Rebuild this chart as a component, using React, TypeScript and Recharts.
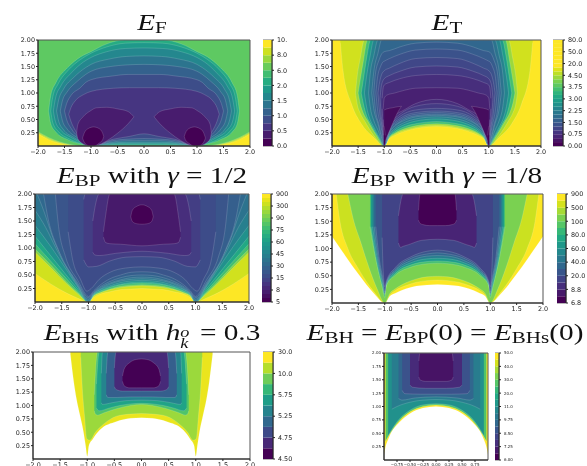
import React from 'react';
import { ComposedChart, BarChart, Area, Bar, XAxis, YAxis, ReferenceArea } from 'recharts';

type Tri = [number, number, number];

// ---------- tick labels ----------
const xTicksWide = [-2, -1.5, -1, -0.5, 0, 0.5, 1, 1.5, 2];
const xTicksNarrow = [-0.75, -0.5, -0.25, 0, 0.25, 0.5, 0.75];
const yTicks = [0.25, 0.5, 0.75, 1, 1.25, 1.5, 1.75, 2];
const cbF = ['0.0', '0.5', '1.0', '1.5', '2.0', '6.0', '8.0', '10.'];
const cbT = ['0.00', '0.75', '1.50', '2.25', '3.00', '3.75', '4.50', '20.0', '50.0', '80.0'];
const cbP2 = ['5', '8', '15', '30', '45', '60', '75', '90', '300', '900'];
const cbP8 = ['6.8', '8.8', '20.0', '40.0', '60.0', '80.0', '100', '500', '900'];
const cbS = ['4.50', '4.75', '5.25', '5.75', '10.0', '30.0'];
const cbH = ['6.00', '7.25', '8.50', '9.75', '11.0', '20.0', '30.0', '40.0', '50.0'];

// ---------- E_F : [x, lower, upper] (left half) ----------
const efFull: Tri[] = [[-2, 0, 2], [2, 0, 2]];
const efCorner11: Tri[] = [[-2, 0, 0.27], [-1.8, 0, 0.16], [-1.6, 0, 0.08], [-1.4, 0, 0.03], [-1.2, 0, 0]];
const efCorner12: Tri[] = [[-2, 0, 0.25], [-1.8, 0, 0.14], [-1.6, 0, 0.065], [-1.4, 0, 0.02], [-1.25, 0, 0]];
const efCorner13: Tri[] = [[-2, 0, 0.23], [-1.8, 0, 0.12], [-1.6, 0, 0.05], [-1.4, 0, 0.01], [-1.3, 0, 0]];
const efR8: Tri[] = [[-1.8, 0.66, 0.66], [-1.76, 0.42, 0.95], [-1.66, 0.26, 1.2], [-1.44, 0.12, 1.48], [-1.2, 0.04, 1.68], [-1, 0, 1.78], [-0.72, 0.01, 1.92], [-0.36, 0.015, 2], [0, 0.015, 2]];
const efR7: Tri[] = [[-1.76, 0.66, 0.66], [-1.72, 0.44, 0.93], [-1.62, 0.28, 1.17], [-1.42, 0.14, 1.44], [-1.2, 0.05, 1.63], [-1, 0, 1.75], [-0.7, 0.02, 1.87], [-0.35, 0.03, 1.94], [0, 0.03, 1.95]];
const efR6: Tri[] = [[-1.71, 0.66, 0.66], [-1.67, 0.46, 0.9], [-1.57, 0.3, 1.13], [-1.37, 0.16, 1.38], [-1.15, 0.05, 1.58], [-1, 0, 1.67], [-0.7, 0.03, 1.78], [-0.35, 0.05, 1.84], [0, 0.05, 1.85]];
const efR5: Tri[] = [[-1.65, 0.66, 0.66], [-1.61, 0.47, 0.87], [-1.52, 0.31, 1.07], [-1.32, 0.16, 1.3], [-1.1, 0.04, 1.48], [-1, 0, 1.54], [-0.66, 0.05, 1.64], [-0.33, 0.07, 1.69], [0, 0.07, 1.7]];
const efR4: Tri[] = [[-1.58, 0.66, 0.66], [-1.54, 0.48, 0.85], [-1.45, 0.32, 1.02], [-1.26, 0.16, 1.22], [-1.1, 0.06, 1.35], [-1, 0, 1.41], [-0.63, 0.07, 1.5], [-0.32, 0.1, 1.53], [0, 0.1, 1.54]];
const efR3: Tri[] = [[-1.5, 0.66, 0.66], [-1.46, 0.5, 0.8], [-1.38, 0.34, 0.95], [-1.2, 0.14, 1.1], [-1.1, 0.06, 1.2], [-1, 0, 1.25], [-0.6, 0.1, 1.32], [-0.3, 0.13, 1.35], [0, 0.14, 1.35]];
const efR2: Tri[] = [[-1.42, 0.6, 0.6], [-1.38, 0.47, 0.72], [-1.3, 0.3, 0.85], [-1.14, 0.1, 0.97], [-1, 0, 1.03], [-0.57, 0.13, 1.09], [-0.28, 0.18, 1.1], [0, 0.23, 1.1]];
const efLobe: Tri[] = [[-1.27, 0.25, 0.25], [-1.25, 0.14, 0.4], [-1.15, 0.04, 0.55], [-1, 0, 0.67], [-0.9, 0.01, 0.72], [-0.7, 0.1, 0.73], [-0.5, 0.24, 0.7], [-0.3, 0.42, 0.65], [-0.19, 0.55, 0.55]];
const efCore: Tri[] = [[-1.16, 0.15, 0.15], [-1.12, 0.06, 0.26], [-1.05, 0.01, 0.33], [-0.95, 0, 0.36], [-0.85, 0.05, 0.33], [-0.78, 0.12, 0.24], [-0.76, 0.18, 0.18]];

// ---------- E_T ----------
const etLime: Tri[] = [[-1.84, 1.95, 2], [-1.79, 1.43, 2], [-1.63, 0.8, 2], [-1.44, 0.42, 2], [-1.2, 0.16, 2], [-1, 0, 2], [-0.9, 0.14, 2], [-0.8, 0.2, 2], [-0.6, 0.28, 2], [-0.4, 0.33, 2], [-0.2, 0.36, 2], [0, 0.37, 2]];
const et85: Tri[] = [[-1.55, 1, 1], [-1.52, 0.8, 1.3], [-1.46, 0.62, 1.65], [-1.38, 0.48, 2], [-1.2, 0.2, 2], [-1, 0, 2], [-0.9, 0.15, 2], [-0.8, 0.22, 2], [-0.6, 0.3, 2], [-0.4, 0.35, 2], [-0.2, 0.38, 2], [0, 0.39, 2]];
const et70: Tri[] = [[-1.5, 1, 1], [-1.46, 0.8, 1.25], [-1.4, 0.62, 1.6], [-1.32, 0.48, 2], [-1.15, 0.2, 2], [-1, 0, 2], [-0.9, 0.17, 2], [-0.8, 0.24, 2], [-0.6, 0.33, 2], [-0.4, 0.38, 2], [-0.2, 0.41, 2], [0, 0.42, 2]];
const et55: Tri[] = [[-1.44, 1, 1], [-1.4, 0.8, 1.25], [-1.33, 0.55, 1.7], [-1.26, 0.42, 2], [-1.1, 0.15, 2], [-1, 0, 2], [-0.9, 0.18, 2], [-0.8, 0.27, 2], [-0.6, 0.37, 2], [-0.4, 0.42, 2], [-0.2, 0.45, 2], [0, 0.46, 2]];
const et45: Tri[] = [[-1.38, 1, 1], [-1.34, 0.75, 1.3], [-1.27, 0.5, 1.7], [-1.2, 0.36, 2], [-1.1, 0.17, 2], [-1, 0, 2], [-0.9, 0.2, 2], [-0.8, 0.3, 2], [-0.6, 0.41, 2], [-0.4, 0.47, 2], [-0.2, 0.5, 2], [0, 0.51, 2]];
const et37: Tri[] = [[-1.3, 1, 1], [-1.27, 0.75, 1.35], [-1.2, 0.48, 1.7], [-1.12, 0.3, 2], [-1, 0, 2], [-0.9, 0.22, 2], [-0.8, 0.33, 2], [-0.6, 0.45, 2], [-0.4, 0.51, 2], [-0.2, 0.54, 2], [0, 0.55, 2]];
const et31: Tri[] = [[-1.24, 1, 1], [-1.2, 0.7, 1.4], [-1.12, 0.42, 1.75], [-1.05, 0.15, 2], [-1, 0, 2], [-0.9, 0.25, 2], [-0.8, 0.37, 2], [-0.6, 0.49, 2], [-0.4, 0.55, 2], [-0.2, 0.57, 2], [0, 0.58, 2]];
const et27: Tri[] = [[-1.2, 1, 1], [-1.17, 0.7, 1.35], [-1.1, 0.4, 1.62], [-1.04, 0.15, 1.75], [-1, 0, 1.78], [-0.9, 0.27, 1.8], [-0.7, 0.46, 1.87], [-0.4, 0.57, 1.94], [0, 0.6, 1.96]];
const et23: Tri[] = [[-1.16, 1, 1], [-1.13, 0.7, 1.28], [-1.07, 0.4, 1.5], [-1.03, 0.2, 1.58], [-1, 0.05, 1.6], [-0.9, 0.3, 1.65], [-0.7, 0.49, 1.73], [-0.4, 0.6, 1.81], [0, 0.63, 1.83]];
const et19: Tri[] = [[-1.12, 1, 1], [-1.09, 0.65, 1.2], [-1.05, 0.4, 1.35], [-1, 0.1, 1.42], [-0.9, 0.33, 1.47], [-0.7, 0.52, 1.56], [-0.4, 0.63, 1.65], [0, 0.66, 1.67]];
const et15: Tri[] = [[-1.08, 0.9, 0.9], [-1.06, 0.6, 1.1], [-1.03, 0.35, 1.22], [-1, 0.15, 1.27], [-0.9, 0.36, 1.33], [-0.7, 0.56, 1.41], [-0.4, 0.68, 1.49], [0, 0.71, 1.51]];
const et11: Tri[] = [[-1.04, 0.7, 0.9], [-1.02, 0.4, 1.1], [-1, 0.2, 1.15], [-0.9, 0.4, 1.2], [-0.7, 0.6, 1.27], [-0.4, 0.75, 1.33], [0, 0.8, 1.35]];
const et08: Tri[] = [[-1.02, 0.5, 0.7], [-1, 0.2, 0.9], [-0.95, 0.35, 0.96], [-0.8, 0.57, 1], [-0.62, 0.68, 1.05], [-0.4, 0.8, 1.09], [0, 0.88, 1.1]];
const etLobe: Tri[] = [[-1, 0.05, 0.68], [-0.95, 0.17, 0.7], [-0.85, 0.4, 0.72], [-0.75, 0.62, 0.74], [-0.67, 0.75, 0.75]];
const etSpike: Tri[] = [[-1.01, 0.02, 0.38], [-1, 0, 0.35], [-0.98, 0.05, 0.2]];

// ---------- E_BP, gamma = 1/2 ----------
const bp93: Tri[] = [[-2, 0.53, 2], [-1.7, 0.33, 2], [-1.4, 0.16, 2], [-1.2, 0.07, 2], [-1, 0, 2], [-0.9, 0.09, 2], [-0.8, 0.14, 2], [-0.6, 0.19, 2], [-0.4, 0.23, 2], [-0.2, 0.24, 2], [0, 0.25, 2]];
const bp82: Tri[] = [[-2, 0.92, 2], [-1.7, 0.63, 2], [-1.4, 0.33, 2], [-1.2, 0.15, 2], [-1, 0, 2], [-0.9, 0.11, 2], [-0.8, 0.16, 2], [-0.6, 0.23, 2], [-0.4, 0.27, 2], [-0.2, 0.29, 2], [0, 0.3, 2]];
const bp68: Tri[] = [[-2, 0.98, 2], [-1.7, 0.68, 2], [-1.4, 0.36, 2], [-1.2, 0.17, 2], [-1, 0, 2], [-0.9, 0.12, 2], [-0.8, 0.17, 2], [-0.6, 0.24, 2], [-0.4, 0.29, 2], [-0.2, 0.31, 2], [0, 0.32, 2]];
const bp55: Tri[] = [[-2, 1.08, 2], [-1.7, 0.75, 2], [-1.4, 0.42, 2], [-1.2, 0.2, 2], [-1, 0, 2], [-0.9, 0.13, 2], [-0.8, 0.19, 2], [-0.6, 0.27, 2], [-0.4, 0.32, 2], [-0.2, 0.34, 2], [0, 0.35, 2]];
const bp45: Tri[] = [[-2, 1.22, 2], [-1.7, 0.85, 2], [-1.4, 0.48, 2], [-1.2, 0.24, 2], [-1, 0, 2], [-0.9, 0.14, 2], [-0.8, 0.2, 2], [-0.6, 0.28, 2], [-0.4, 0.33, 2], [-0.2, 0.36, 2], [0, 0.37, 2]];
const bp38: Tri[] = [[-2, 1.42, 2], [-1.7, 1.02, 2], [-1.4, 0.58, 2], [-1.2, 0.28, 2], [-1, 0, 2], [-0.9, 0.15, 2], [-0.8, 0.22, 2], [-0.6, 0.3, 2], [-0.4, 0.36, 2], [-0.2, 0.39, 2], [0, 0.4, 2]];
const bp33: Tri[] = [[-2, 1.7, 2], [-1.8, 1.38, 2], [-1.6, 0.98, 2], [-1.4, 0.62, 2], [-1.2, 0.3, 2], [-1, 0.02, 2], [-0.9, 0.16, 2], [-0.8, 0.23, 2], [-0.6, 0.33, 2], [-0.4, 0.39, 2], [-0.2, 0.42, 2], [0, 0.43, 2]];
const bp30: Tri[] = [[-1.96, 2, 2], [-1.84, 1.7, 2], [-1.65, 1.15, 2], [-1.45, 0.75, 2], [-1.2, 0.32, 2], [-1, 0.05, 2], [-0.9, 0.17, 2], [-0.8, 0.25, 2], [-0.6, 0.35, 2], [-0.4, 0.41, 2], [-0.2, 0.45, 2], [0, 0.46, 2]];
const bp25: Tri[] = [[-1.84, 2, 2], [-1.75, 1.52, 2], [-1.56, 0.96, 2], [-1.2, 0.35, 2], [-1, 0.08, 2], [-0.9, 0.19, 2], [-0.8, 0.27, 2], [-0.6, 0.38, 2], [-0.4, 0.45, 2], [-0.2, 0.49, 2], [0, 0.5, 2]];
const bp21: Tri[] = [[-1.62, 2, 2], [-1.56, 1.4, 2], [-1.43, 0.84, 2], [-1.2, 0.4, 2], [-1.03, 0.12, 2], [-1, 0.1, 2], [-0.9, 0.21, 2], [-0.8, 0.3, 2], [-0.6, 0.43, 2], [-0.4, 0.5, 2], [-0.2, 0.55, 2], [0, 0.56, 2]];
const bp18: Tri[] = [[-1.38, 1.3, 2], [-1.3, 0.8, 2], [-1.15, 0.42, 2], [-1.03, 0.2, 2], [-0.95, 0.25, 2], [-0.8, 0.42, 2], [-0.6, 0.55, 2], [-0.3, 0.63, 2], [0, 0.65, 2]];
const bp14: Tri[] = [[-1.09, 0.78, 1.9], [-1.06, 0.72, 2], [-1, 0.65, 2], [-0.85, 0.66, 2], [-0.6, 0.76, 2], [-0.3, 0.83, 2], [0, 0.84, 2]];
const bp10: Tri[] = [[-0.92, 0.92, 1.5], [-0.88, 0.87, 1.75], [-0.8, 0.86, 2], [-0.5, 0.9, 2], [-0.2, 0.93, 2], [0, 0.94, 2]];
const bp05: Tri[] = [[-0.72, 1.2, 1.3], [-0.68, 1.1, 1.6], [-0.6, 1.08, 2], [-0.4, 1.07, 2], [0, 1.04, 2]];
const bpCircle: Tri[] = [[-0.21, 1.58, 1.58], [-0.18, 1.49, 1.7], [-0.1, 1.45, 1.77], [0, 1.44, 1.8]];

// ---------- E_BP, gamma = 1/8 ----------
const b8Yellow: Tri[] = [[-2, 1.22, 2], [-1.7, 0.8, 2], [-1.5, 0.53, 2], [-1.2, 0.17, 2], [-1, 0, 2], [-0.9, 0.13, 2], [-0.8, 0.18, 2], [-0.6, 0.26, 2], [-0.4, 0.31, 2], [-0.2, 0.33, 2], [0, 0.34, 2]];
const b8Lemon: Tri[] = [[-1.92, 2, 2], [-1.85, 1.5, 2], [-1.7, 1, 2], [-1.5, 0.63, 2], [-1.2, 0.2, 2], [-1, 0, 2], [-0.9, 0.15, 2], [-0.8, 0.23, 2], [-0.6, 0.32, 2], [-0.4, 0.38, 2], [-0.2, 0.41, 2], [0, 0.42, 2]];
const b8Green: Tri[] = [[-1.7, 2, 2], [-1.6, 1.55, 2], [-1.45, 1.1, 2], [-1.3, 0.65, 2], [-1.15, 0.27, 2], [-1, 0, 2], [-0.9, 0.18, 2], [-0.8, 0.26, 2], [-0.6, 0.37, 2], [-0.4, 0.44, 2], [-0.2, 0.48, 2], [0, 0.49, 2]];
const b870: Tri[] = [[-1.28, 1.4, 2], [-1.18, 0.85, 2], [-1.05, 0.3, 2], [-1, 0.1, 2], [-0.98, 0.3, 2], [-0.8, 0.51, 2], [-0.5, 0.66, 2], [-0.2, 0.72, 2], [0, 0.73, 2]];
const b855: Tri[] = [[-1.26, 1.4, 2], [-1.17, 0.85, 2], [-1.05, 0.33, 2], [-1, 0.15, 2], [-0.97, 0.33, 2], [-0.8, 0.54, 2], [-0.5, 0.7, 2], [-0.2, 0.76, 2], [0, 0.77, 2]];
const b842: Tri[] = [[-1.23, 1.4, 2], [-1.15, 0.85, 2], [-1.04, 0.35, 2], [-1, 0.17, 2], [-0.97, 0.35, 2], [-0.8, 0.57, 2], [-0.5, 0.74, 2], [-0.2, 0.81, 2], [0, 0.82, 2]];
const b833: Tri[] = [[-1.2, 1.4, 2], [-1.13, 0.85, 2], [-1.03, 0.35, 2], [-1, 0.17, 2], [-0.97, 0.37, 2], [-0.8, 0.6, 2], [-0.5, 0.78, 2], [-0.2, 0.86, 2], [0, 0.87, 2]];
const b826: Tri[] = [[-1.17, 1.4, 2], [-1.11, 0.85, 2], [-1.02, 0.35, 2], [-1, 0.2, 2], [-0.97, 0.38, 2], [-0.8, 0.62, 2], [-0.5, 0.82, 2], [-0.2, 0.9, 2], [0, 0.92, 2]];
const b820: Tri[] = [[-1.05, 1.2, 2], [-1.03, 0.6, 2], [-1, 0.3, 2], [-0.97, 0.4, 2], [-0.8, 0.65, 2], [-0.5, 0.85, 2], [-0.2, 0.95, 2], [0, 0.97, 2]];
const b8Box: Tri[] = [[-0.74, 1.1, 1.6], [-0.7, 1.02, 1.85], [-0.65, 1.04, 2], [-0.55, 1.07, 2], [-0.3, 1.15, 2], [0, 1.17, 2]];
const b8Core: Tri[] = [[-0.36, 1.52, 1.7], [-0.33, 1.46, 2], [-0.28, 1.44, 2], [-0.15, 1.42, 2], [0, 1.42, 2]];

// ---------- E_BHs ----------
const bsYellow: Tri[] = [[-1.31, 1.95, 2], [-1.25, 1.45, 2], [-1.2, 1.13, 2], [-1.13, 0.8, 2], [-1.07, 0.51, 2], [-1.03, 0.25, 2], [-1, 0.05, 2], [-0.97, 0.25, 2], [-0.9, 0.37, 2], [-0.77, 0.54, 2], [-0.46, 0.7, 2], [-0.2, 0.76, 2], [0, 0.77, 2]];
const bsLime: Tri[] = [[-1.12, 1.9, 2], [-1.09, 1.3, 2], [-1.05, 0.8, 2], [-1.01, 0.38, 2], [-0.95, 0.35, 2], [-0.85, 0.5, 2], [-0.7, 0.65, 2], [-0.46, 0.8, 2], [-0.2, 0.84, 2], [0, 0.85, 2]];
const bs75: Tri[] = [[-0.87, 0.9, 1.2], [-0.85, 0.84, 1.6], [-0.81, 0.82, 2], [-0.7, 0.86, 2], [-0.46, 0.94, 2], [-0.2, 1, 2], [0, 1.02, 2]];
const bs60: Tri[] = [[-0.83, 0.95, 1.4], [-0.78, 0.9, 2], [-0.6, 0.95, 2], [-0.4, 1, 2], [-0.2, 1.03, 2], [0, 1.04, 2]];
const bs45: Tri[] = [[-0.74, 1.05, 1.6], [-0.72, 1.02, 2], [-0.55, 1.05, 2], [-0.3, 1.09, 2], [0, 1.1, 2]];
const bs30: Tri[] = [[-0.65, 1.2, 1.6], [-0.62, 1.15, 2], [-0.45, 1.15, 2], [-0.2, 1.16, 2], [0, 1.16, 2]];
const bs12: Tri[] = [[-0.5, 1.35, 1.7], [-0.47, 1.3, 2], [-0.35, 1.27, 2], [0, 1.27, 2]];
const bsCore: Tri[] = [[-0.35, 1.45, 1.55], [-0.32, 1.37, 1.68], [-0.22, 1.33, 1.8], [-0.1, 1.33, 1.86], [0, 1.33, 1.87]];

// ---------- E_BH ----------
const bhYellow: Tri[] = [[-1, 0.1, 2], [-0.98, 0.2, 2], [-0.9, 0.43, 2], [-0.7, 0.71, 2], [-0.5, 0.87, 2], [-0.25, 0.97, 2], [0, 1, 2]];
const bhGreen: Tri[] = [[-0.97, 0.35, 2], [-0.9, 0.47, 2], [-0.7, 0.74, 2], [-0.5, 0.9, 2], [-0.25, 1, 2], [0, 1.03, 2]];
const bhTeal: Tri[] = [[-0.92, 0.45, 2], [-0.88, 0.52, 2], [-0.7, 0.77, 2], [-0.5, 0.93, 2], [-0.25, 1.03, 2], [0, 1.05, 2]];
const bh42: Tri[] = [[-0.85, 0.95, 2], [-0.75, 1, 2], [-0.5, 1.08, 2], [-0.25, 1.12, 2], [0, 1.13, 2]];
const bh33: Tri[] = [[-0.72, 1.15, 2], [-0.65, 1.12, 2], [-0.4, 1.16, 2], [0, 1.18, 2]];
const bh25: Tri[] = [[-0.65, 1.3, 2], [-0.6, 1.24, 2], [-0.3, 1.23, 2], [0, 1.23, 2]];
const bh12: Tri[] = [[-0.5, 1.4, 2], [-0.45, 1.36, 2], [-0.2, 1.34, 2], [0, 1.34, 2]];
const bhCore: Tri[] = [[-0.33, 1.55, 1.85], [-0.31, 1.5, 2], [-0.2, 1.47, 2], [0, 1.47, 2]];

// ---------- helpers ----------
const VIRIDIS = ['#440154', '#471365', '#482475', '#463480', '#414487', '#3b528b', '#355f8d', '#2f6c8e', '#2a788e', '#25848e', '#21918c', '#1e9c89', '#22a884', '#2fb47c', '#44bf70', '#5ec962', '#7ad151', '#9bd93c', '#bddf26', '#dfe318', '#fde725'];
const hex = (s: string) => [1, 3, 5].map((i) => parseInt(s.slice(i, i + 2), 16));
const viridis = (t: number) => {
  const p = Math.max(0, Math.min(1, t)) * 20;
  const a = Math.floor(p);
  const b = Math.min(20, a + 1);
  const ca = hex(VIRIDIS[a]);
  const cb = hex(VIRIDIS[b]);
  const c = ca.map((v, i) => Math.round(v + (cb[i] - v) * (p - a)));
  return `rgb(${c[0]},${c[1]},${c[2]})`;
};
const sym = (h: Tri[]): Tri[] => [
  ...h,
  ...h.filter((p) => p[0] !== 0).reverse().map((p) => [-p[0], p[1], p[2]] as Tri),
];
const flip = (h: Tri[]): Tri[] => [...h].reverse().map((p) => [-p[0], p[1], p[2]] as Tri);
const rows = (pts: Tri[]) => pts.map((p) => ({ x: p[0], y: [p[1], p[2]] }));

type Band = { t: number; pts: Tri[]; line?: boolean };

const efBands: Band[] = [
  { t: 0.75, pts: efFull, line: false },
  { t: 0.846, pts: efCorner11 }, { t: 0.846, pts: flip(efCorner11) },
  { t: 0.923, pts: efCorner12 }, { t: 0.923, pts: flip(efCorner12) },
  { t: 1, pts: efCorner13 }, { t: 1, pts: flip(efCorner13) },
  { t: 0.615, pts: sym(efR8) }, { t: 0.538, pts: sym(efR7) }, { t: 0.462, pts: sym(efR6) },
  { t: 0.385, pts: sym(efR5) }, { t: 0.308, pts: sym(efR4) }, { t: 0.231, pts: sym(efR3) },
  { t: 0.154, pts: sym(efR2) },
  { t: 0.077, pts: efLobe }, { t: 0.077, pts: flip(efLobe) },
  { t: 0, pts: efCore }, { t: 0, pts: flip(efCore) },
];
const etBands: Band[] = [
  { t: 1, pts: efFull, line: false },
  { t: 0.93, pts: sym(etLime) }, { t: 0.85, pts: sym(et85) }, { t: 0.7, pts: sym(et70) },
  { t: 0.55, pts: sym(et55) }, { t: 0.45, pts: sym(et45) }, { t: 0.38, pts: sym(et37) },
  { t: 0.33, pts: sym(et31) }, { t: 0.29, pts: sym(et27) }, { t: 0.25, pts: sym(et23) },
  { t: 0.21, pts: sym(et19) }, { t: 0.17, pts: sym(et15) }, { t: 0.13, pts: sym(et11) },
  { t: 0.09, pts: sym(et08) },
  { t: 0.03, pts: etLobe }, { t: 0.03, pts: flip(etLobe) },
  { t: 0, pts: etSpike }, { t: 0, pts: flip(etSpike) },
];
const bpBands: Band[] = [
  { t: 1, pts: efFull, line: false },
  { t: 0.93, pts: sym(bp93) }, { t: 0.82, pts: sym(bp82) }, { t: 0.7, pts: sym(bp68) },
  { t: 0.6, pts: sym(bp55) }, { t: 0.5, pts: sym(bp45) }, { t: 0.43, pts: sym(bp38) },
  { t: 0.38, pts: sym(bp33) }, { t: 0.34, pts: sym(bp30) }, { t: 0.3, pts: sym(bp25) },
  { t: 0.26, pts: sym(bp21) }, { t: 0.23, pts: sym(bp18) }, { t: 0.18, pts: sym(bp14) },
  { t: 0.13, pts: sym(bp10) }, { t: 0.07, pts: sym(bp05) }, { t: 0, pts: sym(bpCircle) },
];
const b8Bands: Band[] = [
  { t: 1, pts: sym(b8Yellow) }, { t: 0.92, pts: sym(b8Lemon) }, { t: 0.8, pts: sym(b8Green) },
  { t: 0.7, pts: sym(b870) }, { t: 0.55, pts: sym(b855) }, { t: 0.42, pts: sym(b842) },
  { t: 0.33, pts: sym(b833) }, { t: 0.26, pts: sym(b826) }, { t: 0.2, pts: sym(b820) },
  { t: 0.1, pts: sym(b8Box) }, { t: 0, pts: sym(b8Core) },
];
const bsBands: Band[] = [
  { t: 0.97, pts: sym(bsYellow) }, { t: 0.85, pts: sym(bsLime) }, { t: 0.72, pts: sym(bs75) },
  { t: 0.58, pts: sym(bs60) }, { t: 0.45, pts: sym(bs45) }, { t: 0.3, pts: sym(bs30) },
  { t: 0.12, pts: sym(bs12) }, { t: 0, pts: sym(bsCore) },
];
const bhBands: Band[] = [
  { t: 1, pts: sym(bhYellow) }, { t: 0.72, pts: sym(bhGreen) }, { t: 0.5, pts: sym(bhTeal) },
  { t: 0.42, pts: sym(bh42) }, { t: 0.33, pts: sym(bh33) }, { t: 0.25, pts: sym(bh25) },
  { t: 0.12, pts: sym(bh12) }, { t: 0.05, pts: sym(bhCore) },
];

const FONT = 'DejaVu Sans';
const minus = (v: number, d: number) => v.toFixed(d).replace('-', '\u2212');

type PanelProps = { x: number; y: number; w: number; h: number; bands: Band[]; xd: [number, number]; xt: number[]; xf: number; fs: number };
const Panel = ({ x, y, w, h, bands, xd, xt, xf, fs }: PanelProps) => {
  const ML = 30, MB = 14;
  return (
    <div style={{ position: 'absolute', left: x - ML, top: y - 4 }}>
      <ComposedChart width={w + ML + 12} height={h + 4 + MB} margin={{ top: 4, right: 12, bottom: 0, left: 0 }}>
        <XAxis type="number" dataKey="x" domain={xd} ticks={xt} allowDataOverflow interval={0} height={MB}
          tickFormatter={(v: number) => minus(v, xf)} tick={{ fontSize: fs, fontFamily: FONT, fill: '#222' }}
          tickSize={2} tickMargin={1} stroke="#222" />
        <YAxis type="number" domain={[0, 2]} ticks={yTicks} allowDataOverflow interval={0} width={ML}
          tickFormatter={(v: number) => v.toFixed(2)} tick={{ fontSize: fs, fontFamily: FONT, fill: '#222' }}
          tickSize={2} tickMargin={1} stroke="#222" />
        {bands.map((b, i) => (
          <Area key={i} data={rows(b.pts)} dataKey="y" type="monotone" isAnimationActive={false}
            fill={viridis(b.t)} fillOpacity={1} dot={false} activeDot={false} legendType="none"
            stroke={b.line === false ? 'none' : 'rgba(255,255,255,0.3)'} strokeWidth={0.5} />
        ))}
        <ReferenceArea x1={xd[0]} x2={xd[1]} y1={0} y2={2} fill="none" stroke="#555" strokeWidth={1} ifOverflow="visible" />
      </ComposedChart>
    </div>
  );
};

type BarProps = { x: number; y: number; w: number; h: number; n: number; step: number; labels: string[]; top: number; clip: number; fs: number };
const ColorBar = ({ x, y, w, h, n, step, labels, top, clip, fs }: BarProps) => {
  const keys = Array.from({ length: n }, (_, i) => `s${i}`);
  const row: Record<string, number | string> = { k: 'c' };
  keys.forEach((k) => { row[k] = 1; });
  const ticks = labels.map((_, i) => i * step);
  return (
    <div style={{ position: 'absolute', left: x, top: y - 4, width: clip - x, height: h + 8, overflow: 'hidden' }}>
      <BarChart width={w + 40} height={h + 8} data={[row]} barCategoryGap={0} margin={{ top: 4, right: 0, bottom: 4, left: 0 }}>
        <XAxis dataKey="k" hide />
        <YAxis type="number" orientation="right" domain={[0, n]} ticks={ticks} allowDataOverflow interval={0} width={40}
          tickFormatter={(v: number) => labels[Math.round(v / step)]} tick={{ fontSize: fs, fontFamily: FONT, fill: '#222', textAnchor: 'start' }}
          tickSize={2} tickMargin={3} stroke="#222" />
        {keys.map((k, i) => (
          <Bar key={k} dataKey={k} stackId="c" fill={viridis(i / top)} isAnimationActive={false} />
        ))}
        <ReferenceArea x1="c" x2="c" y1={0} y2={n} fill="none" stroke="#333" strokeWidth={0.7} ifOverflow="visible" />
      </BarChart>
    </div>
  );
};

const Sub = ({ children }: { children: React.ReactNode }) => (
  <span style={{ fontSize: '0.72em', position: 'relative', top: '0.2em' }}>{children}</span>
);
const E = () => <i>E</i>;
const Title = ({ cx, base, children }: { cx: number; base: number; children: React.ReactNode }) => (
  <div style={{ position: 'absolute', left: cx, top: base - 20, transform: 'translateX(-50%) scaleX(1.22)', whiteSpace: 'nowrap', fontFamily: 'Liberation Serif', fontSize: 24, lineHeight: '24px', color: '#111' }}>
    {children}
  </div>
);

export default function App() {
  return (
    <div style={{ position: 'absolute', left: 0, top: 0, width: 587, height: 466, overflow: 'hidden', background: '#fff', filter: 'blur(0.35px)' }}>
      <Title cx={152} base={30}><E /><Sub>F</Sub></Title>
      <Title cx={447} base={30}><E /><Sub>T</Sub></Title>
      <Title cx={152} base={183}><E /><Sub>BP</Sub> with <i>γ</i> = 1/2</Title>
      <Title cx={447} base={183}><E /><Sub>BP</Sub> with <i>γ</i> = 1/8</Title>
      <Title cx={152} base={340}><E /><Sub>BHs</Sub> with <i>h</i><span style={{ position: 'relative', display: 'inline-block', width: 10 }}><span style={{ position: 'absolute', fontSize: 15, lineHeight: '9px', top: -12, left: 0, fontStyle: 'italic' }}>o</span><span style={{ position: 'absolute', fontSize: 15, lineHeight: '9px', top: -1, left: 0, fontStyle: 'italic' }}>k</span></span> = 0.3</Title>
      <Title cx={445} base={340}><E /><Sub>BH</Sub> = <E /><Sub>BP</Sub>(0) = <E /><Sub>BHs</Sub>(0)</Title>

      <Panel x={38} y={40} w={212} h={106} bands={efBands} xd={[-2, 2]} xt={xTicksWide} xf={1} fs={6.4} />
      <ColorBar x={263} y={40} w={9} h={106} n={14} step={2} labels={cbF} top={13} clip={295} fs={6.4} />
      <Panel x={332} y={40} w={209} h={106} bands={etBands} xd={[-2, 2]} xt={xTicksWide} xf={1} fs={6.4} />
      <ColorBar x={553} y={40} w={10} h={106} n={27} step={3} labels={cbT} top={20} clip={587} fs={6.4} />
      <Panel x={35} y={194} w={214} h={108} bands={bpBands} xd={[-2, 2]} xt={xTicksWide} xf={1} fs={6.4} />
      <ColorBar x={262} y={194} w={9} h={108} n={27} step={3} labels={cbP2} top={26} clip={295} fs={6.4} />
      <Panel x={332} y={194} w={211} h={109} bands={b8Bands} xd={[-2, 2]} xt={xTicksWide} xf={1} fs={6.4} />
      <ColorBar x={557} y={194} w={9} h={109} n={16} step={2} labels={cbP8} top={15} clip={587} fs={6.4} />
      <Panel x={33} y={352} w={217} h={107} bands={bsBands} xd={[-2, 2]} xt={xTicksWide} xf={1} fs={6.4} />
      <ColorBar x={263} y={352} w={10} h={107} n={10} step={2} labels={cbS} top={9} clip={296} fs={6.4} />
      <Panel x={384} y={353} w={104} h={107} bands={bhBands} xd={[-1, 1]} xt={xTicksNarrow} xf={2} fs={4} />
      <ColorBar x={495} y={353} w={4} h={107} n={16} step={2} labels={cbH} top={15} clip={530} fs={4} />
    </div>
  );
}
